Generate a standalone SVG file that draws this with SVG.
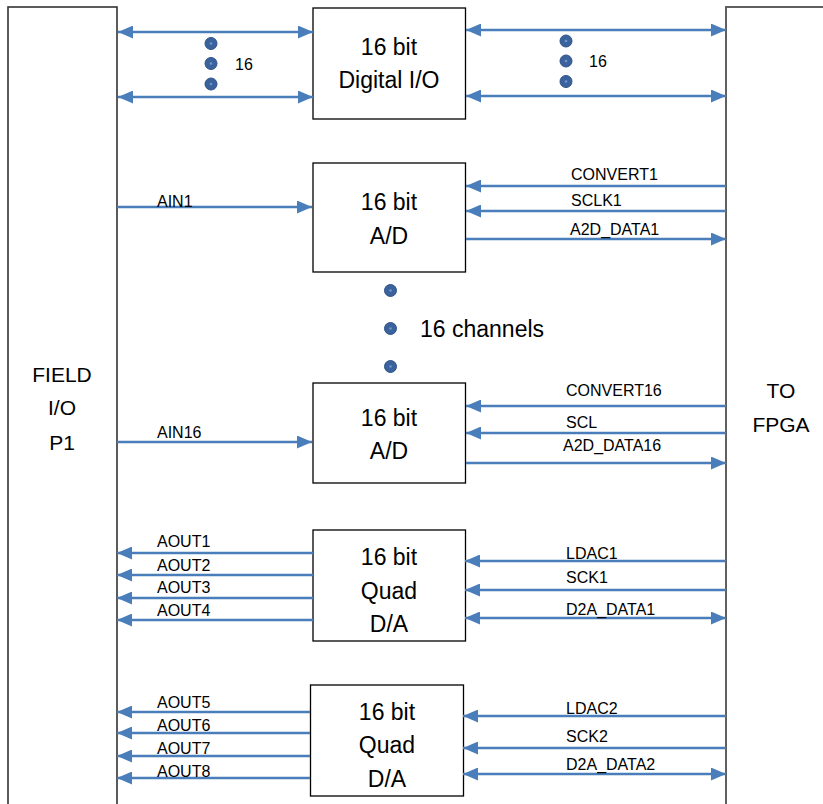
<svg xmlns="http://www.w3.org/2000/svg" width="823" height="804" viewBox="0 0 823 804">
<style>
.panel{fill:#fff;stroke:#333;stroke-width:1.6}
.box{fill:#fff;stroke:#000;stroke-width:1.3}
.big{font-family:"Liberation Sans",Arial,sans-serif;font-size:23px;fill:#000;text-anchor:middle}
.side{font-family:"Liberation Sans",Arial,sans-serif;font-size:21px;fill:#000;text-anchor:middle}
.lbl{font-family:"Liberation Sans",Arial,sans-serif;font-size:16px;fill:#000}
.w{stroke:#4a7ebb;stroke-width:2.5;fill:none}
.one{marker-end:url(#ah)}
.two{marker-start:url(#ah);marker-end:url(#ah)}
.dot{fill:#3a639e;stroke:#2f5288;stroke-width:1}
.dc{fill:#6f95c8}
</style>
<defs>
<marker id="ah" viewBox="0 0 15 13" refX="15" refY="6.5" markerWidth="15" markerHeight="13" markerUnits="userSpaceOnUse" orient="auto-start-reverse">
<path d="M0,0 L15,6.5 L0,13 z" fill="#4a7ebb"/>
</marker>
</defs>
<rect width="823" height="804" fill="#fff"/>

<g id="field-io">
<rect class="panel" x="8" y="7" width="109" height="810"/>
<text class="side" x="62" y="382">FIELD</text>
<text class="side" x="62" y="415">I/O</text>
<text class="side" x="62" y="450">P1</text>
</g>

<g id="to-fpga">
<rect class="panel" x="726" y="7" width="110" height="810" style="stroke:#606060;stroke-width:2"/>
<text class="side" x="781" y="398">TO</text>
<text class="side" x="781" y="432">FPGA</text>
</g>

<g id="digital-io">
<rect class="box" x="313" y="8" width="152.5" height="111"/>
<text class="big" x="389" y="55">16 bit</text>
<text class="big" x="389" y="88">Digital I/O</text>
</g>

<g id="ad1">
<rect class="box" x="313" y="163" width="152.5" height="109"/>
<text class="big" x="389" y="210">16 bit</text>
<text class="big" x="389" y="244">A/D</text>
</g>

<g id="ad16">
<rect class="box" x="313" y="383" width="152.5" height="100"/>
<text class="big" x="389" y="426">16 bit</text>
<text class="big" x="389" y="459">A/D</text>
</g>

<g id="da1">
<rect class="box" x="313" y="530" width="152.5" height="111"/>
<text class="big" x="389" y="565">16 bit</text>
<text class="big" x="389" y="599">Quad</text>
<text class="big" x="389" y="632">D/A</text>
</g>

<g id="da2">
<rect class="box" x="310.5" y="685" width="153" height="111"/>
<text class="big" x="387" y="720">16 bit</text>
<text class="big" x="387" y="753">Quad</text>
<text class="big" x="387" y="787">D/A</text>
</g>

<g id="ellipses">
<circle class="dot" cx="211" cy="43.5" r="6"/><circle class="dc" cx="211" cy="43.5" r="1.3"/>
<circle class="dot" cx="211" cy="63.5" r="6"/><circle class="dc" cx="211" cy="63.5" r="1.3"/>
<circle class="dot" cx="211" cy="84" r="6"/><circle class="dc" cx="211" cy="84" r="1.3"/>
<text class="lbl" x="235" y="70">16</text>
<circle class="dot" cx="566" cy="41" r="6"/><circle class="dc" cx="566" cy="41" r="1.3"/>
<circle class="dot" cx="566" cy="61" r="6"/><circle class="dc" cx="566" cy="61" r="1.3"/>
<circle class="dot" cx="566" cy="81.5" r="6"/><circle class="dc" cx="566" cy="81.5" r="1.3"/>
<text class="lbl" x="589" y="67">16</text>
<circle class="dot" cx="390.5" cy="290.5" r="6"/><circle class="dc" cx="390.5" cy="290.5" r="1.3"/>
<circle class="dot" cx="390.5" cy="328.5" r="6"/><circle class="dc" cx="390.5" cy="328.5" r="1.3"/>
<circle class="dot" cx="390.5" cy="366.5" r="6"/><circle class="dc" cx="390.5" cy="366.5" r="1.3"/>
<text class="big" x="420" y="337" style="text-anchor:start">16 channels</text>
</g>

<g id="connectors">
<line class="w two" x1="118" y1="32" x2="313" y2="32"/>
<line class="w two" x1="118" y1="97" x2="313" y2="97"/>
<line class="w two" x1="466" y1="30" x2="726" y2="30"/>
<line class="w two" x1="466" y1="96" x2="726" y2="96"/>

<line class="w one" x1="117" y1="207" x2="312" y2="207"/>
<line class="w one" x1="726" y1="186" x2="466" y2="186"/>
<line class="w one" x1="726" y1="211" x2="466" y2="211"/>
<line class="w one" x1="466" y1="239" x2="726" y2="239"/>

<line class="w one" x1="117" y1="442" x2="312" y2="442"/>
<line class="w one" x1="726" y1="406" x2="466" y2="406"/>
<line class="w one" x1="726" y1="433" x2="466" y2="433"/>
<line class="w one" x1="466" y1="463" x2="726" y2="463"/>

<line class="w one" x1="313" y1="553" x2="117" y2="553"/>
<line class="w one" x1="313" y1="575" x2="117" y2="575"/>
<line class="w one" x1="313" y1="598" x2="117" y2="598"/>
<line class="w one" x1="313" y1="620" x2="117" y2="620"/>
<line class="w one" x1="726" y1="561" x2="465" y2="561"/>
<line class="w one" x1="726" y1="590" x2="465" y2="590"/>
<line class="w two" x1="465" y1="618" x2="726" y2="618"/>

<line class="w one" x1="310" y1="712" x2="117" y2="712"/>
<line class="w one" x1="310" y1="733" x2="117" y2="733"/>
<line class="w one" x1="310" y1="756" x2="117" y2="756"/>
<line class="w one" x1="310" y1="778" x2="117" y2="778"/>
<line class="w one" x1="726" y1="716" x2="463" y2="716"/>
<line class="w one" x1="726" y1="748" x2="463" y2="748"/>
<line class="w two" x1="463" y1="774" x2="726" y2="774"/>
</g>

<g id="labels">
<text class="lbl" x="157" y="207">AIN1</text>
<text class="lbl" x="571" y="180">CONVERT1</text>
<text class="lbl" x="571" y="206">SCLK1</text>
<text class="lbl" x="570" y="235">A2D_DATA1</text>
<text class="lbl" x="157" y="438">AIN16</text>
<text class="lbl" x="566" y="396">CONVERT16</text>
<text class="lbl" x="566" y="428">SCL</text>
<text class="lbl" x="563" y="451">A2D_DATA16</text>
<text class="lbl" x="157" y="547">AOUT1</text>
<text class="lbl" x="157" y="571">AOUT2</text>
<text class="lbl" x="157" y="593">AOUT3</text>
<text class="lbl" x="157" y="616">AOUT4</text>
<text class="lbl" x="566" y="559">LDAC1</text>
<text class="lbl" x="566" y="583">SCK1</text>
<text class="lbl" x="566" y="615">D2A_DATA1</text>
<text class="lbl" x="157" y="708">AOUT5</text>
<text class="lbl" x="157" y="731">AOUT6</text>
<text class="lbl" x="157" y="754">AOUT7</text>
<text class="lbl" x="157" y="777">AOUT8</text>
<text class="lbl" x="566" y="714">LDAC2</text>
<text class="lbl" x="566" y="742">SCK2</text>
<text class="lbl" x="566" y="770">D2A_DATA2</text>
</g>
</svg>
